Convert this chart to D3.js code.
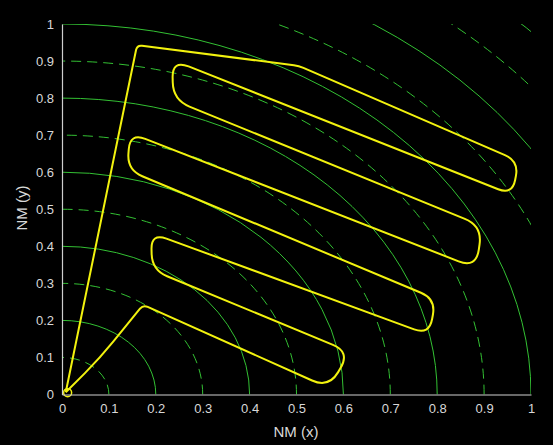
<!DOCTYPE html>
<html>
<head>
<meta charset="utf-8">
<script src="https://cdn.jsdelivr.net/npm/d3@7"></script>
<style>
  html, body { margin: 0; padding: 0; background: #000; }
  svg { display: block; }
</style>
</head>
<body>
<svg id="chart" width="553" height="445"></svg>
<script>
// ticks on both axes
const xTicks = [0, 0.1, 0.2, 0.3, 0.4, 0.5, 0.6, 0.7, 0.8, 0.9, 1];
const yTicks = [0, 0.1, 0.2, 0.3, 0.4, 0.5, 0.6, 0.7, 0.8, 0.9, 1];

// range rings (NM), solid and dashed
const solidRings = [0.2, 0.4, 0.6, 0.8, 1.0, 1.2, 1.4];
const dashedRings = [0.1, 0.3, 0.5, 0.7, 0.9, 1.1, 1.3];

// track vertices (NM)
const trackX = [0.008, 0.081, 0.173, 0.569, 0.614, 0.192, 0.190, 0.783, 0.797,
  0.139, 0.145, 0.883, 0.896, 0.237, 0.235, 0.960, 0.974, 0.505, 0.160, 0.008];
const trackY = [0.006, 0.0985, 0.242, 0.0175, 0.115, 0.336, 0.436, 0.161, 0.258,
  0.606, 0.706, 0.341, 0.455, 0.795, 0.903, 0.539, 0.630, 0.887, 0.943, 0.006];

const startPoint = [0.012, 0.005];

const svg = d3.select("#chart");
const x = d3.scaleLinear().domain([0, 1]).range([62, 531]);
const y = d3.scaleLinear().domain([0, 1]).range([394.5, 24]);

const green = "#33c033";
const yellow = "#f2f20e";
const axisColor = "#cfcfcf";
const font = "'Liberation Sans', Arial, Helvetica, sans-serif";

svg.append("defs").append("clipPath").attr("id", "plotclip")
  .append("rect")
  .attr("x", x(0)).attr("y", y(1))
  .attr("width", x(1) - x(0)).attr("height", y(0) - y(1));

const plot = svg.append("g").attr("clip-path", "url(#plotclip)");

// ring = quarter ellipse in pixel space (circle in data space)
function ringPath(r) {
  const rx = x(r) - x(0), ry = y(0) - y(r);
  return `M${x(r)},${y(0)}A${rx},${ry} 0 0 0 ${x(0)},${y(r)}`;
}

plot.selectAll("path.solid")
  .data(solidRings)
  .join("path")
  .attr("class", "solid")
  .attr("d", ringPath)
  .attr("fill", "none")
  .attr("stroke", green)
  .attr("stroke-width", 1);

plot.selectAll("path.dashed")
  .data(dashedRings)
  .join("path")
  .attr("class", "dashed")
  .attr("d", ringPath)
  .attr("fill", "none")
  .attr("stroke", green)
  .attr("stroke-width", 1)
  .attr("stroke-dasharray", "10,6");

// track: turn ends (short legs) rounded, long-leg corners nearly sharp
const pts = trackX.map((d, i) => [x(d), y(trackY[i])]);
const path = d3.path();
path.moveTo(pts[0][0], pts[0][1]);
for (let i = 1; i < pts.length - 1; i++) {
  const p = pts[i - 1], c = pts[i], n = pts[i + 1];
  const l1 = Math.hypot(c[0] - p[0], c[1] - p[1]);
  const l2 = Math.hypot(n[0] - c[0], n[1] - c[1]);
  const short = Math.min(l1, l2);
  const r = short < 60 ? short * 0.44 : 5;
  const a = [c[0] + (p[0] - c[0]) * r / l1, c[1] + (p[1] - c[1]) * r / l1];
  const b = [c[0] + (n[0] - c[0]) * r / l2, c[1] + (n[1] - c[1]) * r / l2];
  path.lineTo(a[0], a[1]);
  path.quadraticCurveTo(c[0], c[1], b[0], b[1]);
}
path.lineTo(pts[pts.length - 1][0], pts[pts.length - 1][1]);

svg.append("path")
  .attr("d", path.toString())
  .attr("fill", "none")
  .attr("stroke", yellow)
  .attr("stroke-width", 2)
  .attr("stroke-linejoin", "round");

svg.append("circle")
  .attr("cx", x(startPoint[0]))
  .attr("cy", y(startPoint[1]))
  .attr("r", 4)
  .attr("fill", "none")
  .attr("stroke", yellow)
  .attr("stroke-width", 1.5);

// axes
const xAxis = svg.append("g")
  .attr("transform", `translate(0,${y(0)})`)
  .call(d3.axisBottom(x).tickValues(xTicks).tickFormat(d => String(d))
    .tickSize(0).tickPadding(9));
const yAxis = svg.append("g")
  .attr("transform", `translate(${x(0)},0)`)
  .call(d3.axisLeft(y).tickValues(yTicks).tickFormat(d => String(d))
    .tickSize(0).tickPadding(8));

[xAxis, yAxis].forEach(g => {
  g.select(".domain").attr("stroke", axisColor).attr("stroke-width", 1.2);
  g.selectAll("text")
    .attr("fill", "#d8d8d8")
    .style("font-family", font)
    .style("font-size", "13px");
});

svg.append("text")
  .attr("x", 296)
  .attr("y", 437)
  .attr("text-anchor", "middle")
  .attr("fill", "#d8d8d8")
  .style("font-family", font)
  .style("font-size", "15px")
  .text("NM (x)");

svg.append("text")
  .attr("transform", "translate(27,208) rotate(-90)")
  .attr("text-anchor", "middle")
  .attr("fill", "#d8d8d8")
  .style("font-family", font)
  .style("font-size", "15px")
  .text("NM (y)");
</script>
</body>
</html>
